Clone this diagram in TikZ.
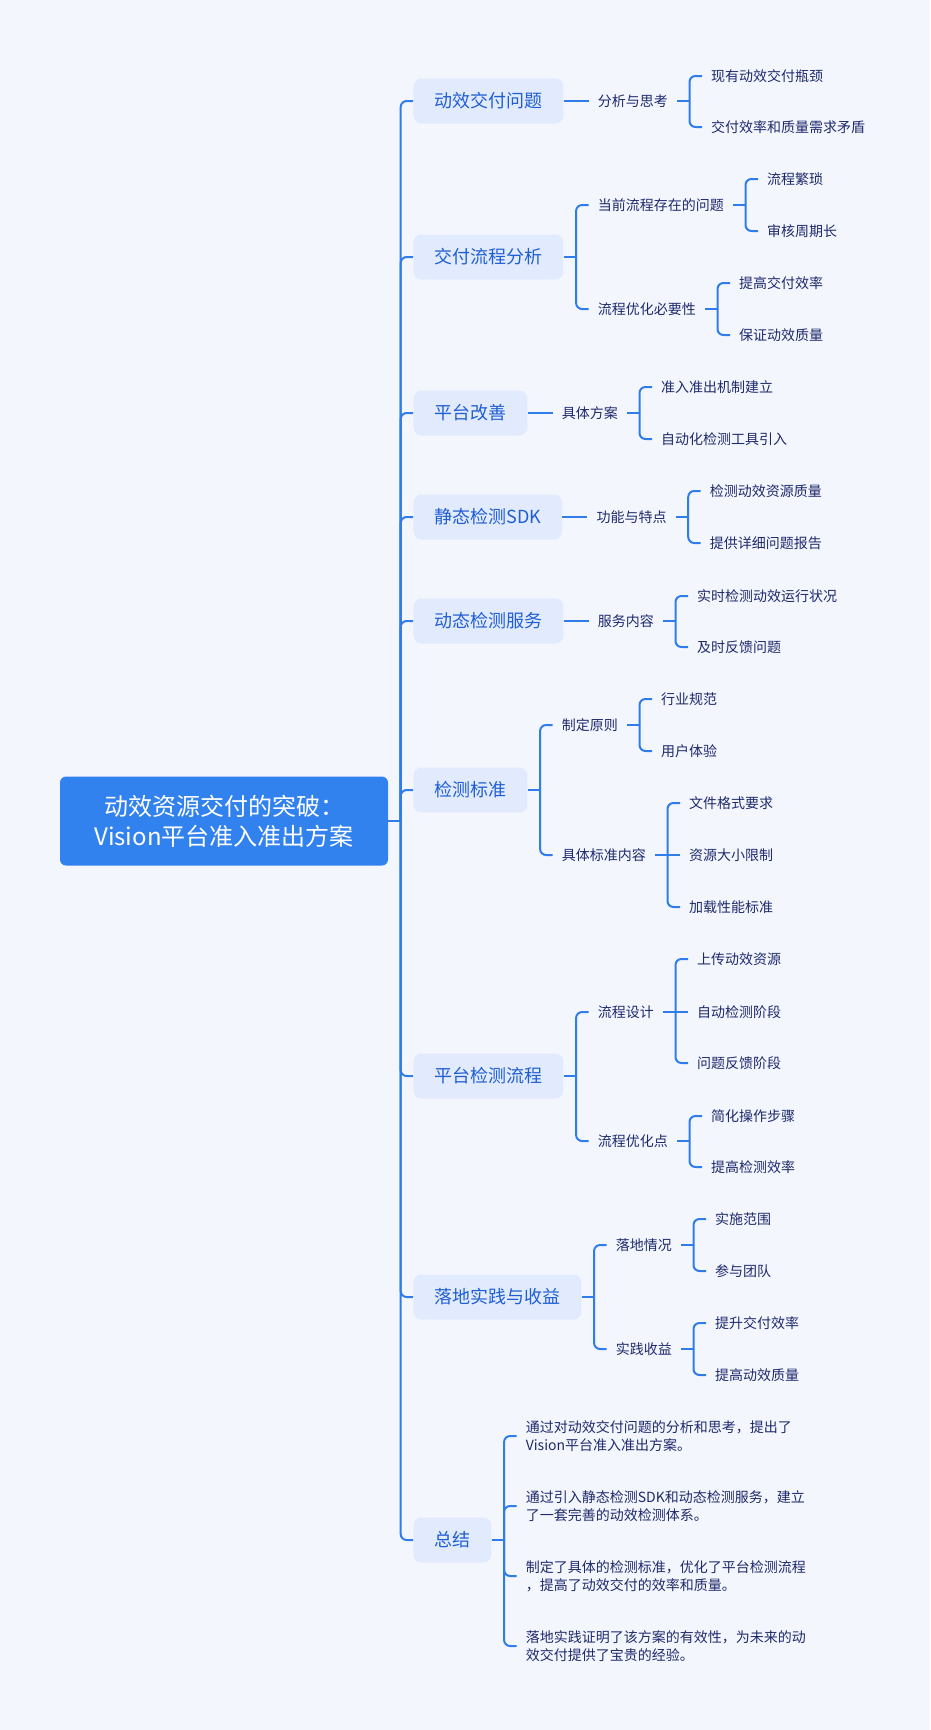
\documentclass[tikz,border=0pt]{standalone}
\usepackage{fontspec}
\setmainfont{Noto Sans CJK SC}
\usetikzlibrary{calc}
\definecolor{bg}{HTML}{F4F6FE}
\definecolor{ln}{HTML}{2F7DEB}
\definecolor{boxfill}{HTML}{E2EAFD}
\definecolor{boxtxt}{HTML}{1F5FD3}
\definecolor{leaftxt}{HTML}{1E2A6B}
\definecolor{rootfill}{HTML}{3182EE}
\newcommand\mstem[1]{\coordinate (#1b) at ([xshift=12.5pt]#1.east); \draw[conn] (#1.east) -- (#1b);}
\newcommand\mkid[5]{\coordinate (#2y) at (0,#3); \coordinate (#2x) at ([xshift=12.5pt]#1b); \node[#4,anchor=west] (#2) at (#2x |- #2y) {#5}; \draw[conn,rounded corners=6pt] (#1b) |- (#2.west);}
\newcommand\mone[4]{\coordinate (#2x) at ([xshift=12.5pt]#1b); \node[#3,anchor=west] (#2) at (#2x) {#4}; \draw[conn] (#1b) -- (#2.west);}
\tikzset{
  conn/.style={draw=ln, line width=2pt},
  topic/.style={fill=boxfill, rounded corners=8pt, minimum height=45pt, inner xsep=21pt, inner ysep=0pt, text=boxtxt, font=\fontsize{18}{22}\selectfont},
  sub/.style={inner xsep=9pt, inner ysep=2pt, text=leaftxt, font=\fontsize{14}{18}\selectfont},
  note/.style={sub, align=left},
  rootbox/.style={fill=rootfill, rounded corners=6pt, minimum width=328pt, minimum height=89pt, inner sep=0pt, text=white, align=center, font=\fontsize{24}{30}\selectfont}
}
\begin{document}
\begin{tikzpicture}[x=1pt,y=-1pt]
\fill[bg] (0,0) rectangle (930,1730);
\useasboundingbox (0,0) rectangle (930,1730);
\node[rootbox] (root) at (224,821) {动效资源交付的突破：\\Vision平台准入准出方案};
\mstem{root}
\mkid{root}{ta}{101}{topic}{动效交付问题}
\mkid{root}{tb}{257}{topic}{交付流程分析}
\mkid{root}{tc}{413}{topic}{平台改善}
\mkid{root}{td}{517}{topic}{静态检测SDK}
\mkid{root}{te}{621}{topic}{动态检测服务}
\mkid{root}{tf}{790}{topic}{检测标准}
\mkid{root}{tg}{1076}{topic}{平台检测流程}
\mkid{root}{th}{1297}{topic}{落地实践与收益}
\mkid{root}{ti}{1540}{topic}{总结}
% A
\mstem{ta}
\mone{ta}{sa}{sub}{分析与思考}
\mstem{sa}
\mkid{sa}{laa}{76}{sub}{现有动效交付瓶颈}
\mkid{sa}{lab}{127}{sub}{交付效率和质量需求矛盾}
% B
\mstem{tb}
\mkid{tb}{sba}{205}{sub}{当前流程存在的问题}
\mkid{tb}{sbb}{309}{sub}{流程优化必要性}
\mstem{sba}
\mkid{sba}{lbaa}{179}{sub}{流程繁琐}
\mkid{sba}{lbab}{231}{sub}{审核周期长}
\mstem{sbb}
\mkid{sbb}{lbba}{283}{sub}{提高交付效率}
\mkid{sbb}{lbbb}{335}{sub}{保证动效质量}
% C
\mstem{tc}
\mone{tc}{sc}{sub}{具体方案}
\mstem{sc}
\mkid{sc}{lca}{387}{sub}{准入准出机制建立}
\mkid{sc}{lcb}{439}{sub}{自动化检测工具引入}
% D
\mstem{td}
\mone{td}{sd}{sub}{功能与特点}
\mstem{sd}
\mkid{sd}{lda}{491}{sub}{检测动效资源质量}
\mkid{sd}{ldb}{543}{sub}{提供详细问题报告}
% E
\mstem{te}
\mone{te}{se}{sub}{服务内容}
\mstem{se}
\mkid{se}{lea}{596}{sub}{实时检测动效运行状况}
\mkid{se}{leb}{647}{sub}{及时反馈问题}
% F
\mstem{tf}
\mkid{tf}{sfa}{725}{sub}{制定原则}
\mkid{tf}{sfb}{855}{sub}{具体标准内容}
\mstem{sfa}
\mkid{sfa}{lfaa}{699}{sub}{行业规范}
\mkid{sfa}{lfab}{751}{sub}{用户体验}
\mstem{sfb}
\mkid{sfb}{lfba}{803}{sub}{文件格式要求}
\mone{sfb}{lfbb}{sub}{资源大小限制}
\mkid{sfb}{lfbc}{907}{sub}{加载性能标准}
% G
\mstem{tg}
\mkid{tg}{sga}{1012}{sub}{流程设计}
\mkid{tg}{sgb}{1141}{sub}{流程优化点}
\mstem{sga}
\mkid{sga}{lgaa}{959}{sub}{上传动效资源}
\mone{sga}{lgab}{sub}{自动检测阶段}
\mkid{sga}{lgac}{1063}{sub}{问题反馈阶段}
\mstem{sgb}
\mkid{sgb}{lgba}{1116}{sub}{简化操作步骤}
\mkid{sgb}{lgbb}{1167}{sub}{提高检测效率}
% H
\mstem{th}
\mkid{th}{sha}{1245}{sub}{落地情况}
\mkid{th}{shb}{1349}{sub}{实践收益}
\mstem{sha}
\mkid{sha}{lhaa}{1219}{sub}{实施范围}
\mkid{sha}{lhab}{1271}{sub}{参与团队}
\mstem{shb}
\mkid{shb}{lhba}{1323}{sub}{提升交付效率}
\mkid{shb}{lhbb}{1375}{sub}{提高动效质量}
% I
\mstem{ti}
\mkid{ti}{na}{1436}{note}{通过对动效交付问题的分析和思考，提出了\\Vision平台准入准出方案。}
\mkid{ti}{nb}{1506}{note}{通过引入静态检测SDK和动态检测服务，建立\\了一套完善的动效检测体系。}
\mkid{ti}{nc}{1576}{note}{制定了具体的检测标准，优化了平台检测流程\\，提高了动效交付的效率和质量。}
\mkid{ti}{nd}{1646}{note}{落地实践证明了该方案的有效性，为未来的动\\效交付提供了宝贵的经验。}
\end{tikzpicture}
\end{document}
